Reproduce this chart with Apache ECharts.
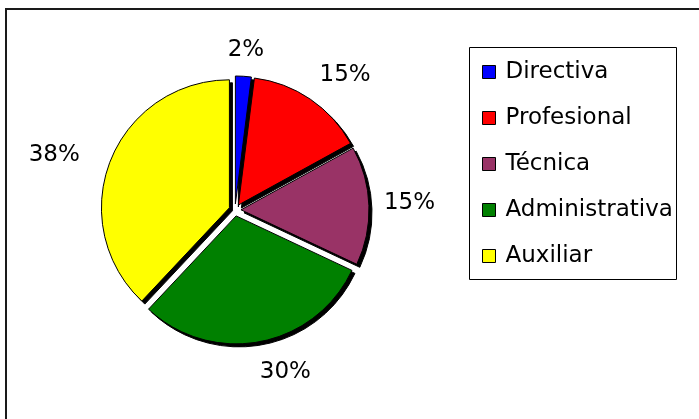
<!DOCTYPE html>
<html>
<head>
<meta charset="utf-8">
<script src="https://cdn.jsdelivr.net/npm/echarts@6/dist/echarts.min.js"></script>
<style>
  html, body { margin: 0; padding: 0; background: #fff; }
  #chart { width: 699px; height: 419px; }
</style>
</head>
<body>
<div id="chart"></div>
<script>
// ---- data ----
const categories = ['Directiva', 'Profesional', 'Técnica', 'Administrativa', 'Auxiliar'];
const shareValues = [2, 15, 15, 30, 38];

// ---- styles ----
const sliceColors = ['#0000FF', '#FF0000', '#993366', '#008000', '#FFFF00'];
const FONT = 'DejaVu Sans';
const labelNudge = [[-17, -6], [-2, -8], [-5, -2], [-4, 11], [-12, 2]];
const PIE_CENTER = [235, 210];
const SHADOW_SHIFT = 3;

const chart = echarts.init(document.getElementById('chart'), null, { renderer: 'canvas' });

const pieData = categories.map((name, i) => ({
  name: name,
  value: shareValues[i],
  selected: true,
  itemStyle: { color: sliceColors[i] }
}));

const shadowData = categories.map((name, i) => ({
  name: name,
  value: shareValues[i],
  selected: true
}));

const common = {
  type: 'pie',
  radius: 128,
  startAngle: 90,
  clockwise: true,
  selectedMode: 'multiple',
  selectedOffset: 6,
  avoidLabelOverlap: false,
  emphasis: { disabled: true }
};

chart.setOption({
  animation: false,
  backgroundColor: '#fff',
  graphic: [
    { type: 'rect', z: 0, shape: { x: 6, y: 9, width: 900, height: 700 },
      style: { fill: '#fff', stroke: '#1a1a1a', lineWidth: 2 } },
    { type: 'rect', z: 1, shape: { x: 469.5, y: 47.5, width: 207, height: 232 },
      style: { fill: '#fff', stroke: '#000', lineWidth: 1 } }
  ],
  legend: {
    orient: 'vertical',
    left: 482,
    top: 60,
    padding: 0,
    itemWidth: 13,
    itemHeight: 13,
    itemGap: 22,
    icon: 'rect',
    selectedMode: false,
    itemStyle: { borderColor: '#000', borderWidth: 1 },
    textStyle: { fontFamily: FONT, fontSize: 23, color: '#000', lineHeight: 24, padding: [0, 0, 0, 5] },
    data: categories
  },
  series: [
    Object.assign({}, common, {
      name: 'main',
      z: 4,
      center: PIE_CENTER,
      itemStyle: { borderColor: '#000', borderWidth: 1 },
      label: {
        show: true,
        position: 'outside',
        formatter: '{d}%',
        fontFamily: FONT,
        fontSize: 23,
        color: '#000',
        distanceToLabelLine: 0
      },
      labelLine: { show: false, length: 20, length2: 0 },
      labelLayout: function (params) {
        const n = labelNudge[params.dataIndex] || [0, 0];
        return { dx: n[0], dy: n[1] };
      },
      data: pieData
    }),
    Object.assign({}, common, {
      name: 'shadow',
      z: 3,
      silent: true,
      center: [PIE_CENTER[0] + SHADOW_SHIFT, PIE_CENTER[1] + SHADOW_SHIFT],
      itemStyle: { color: '#000', borderColor: '#000', borderWidth: 1 },
      label: { show: false },
      labelLine: { show: false },
      data: shadowData
    })
  ]
});
</script>
</body>
</html>
